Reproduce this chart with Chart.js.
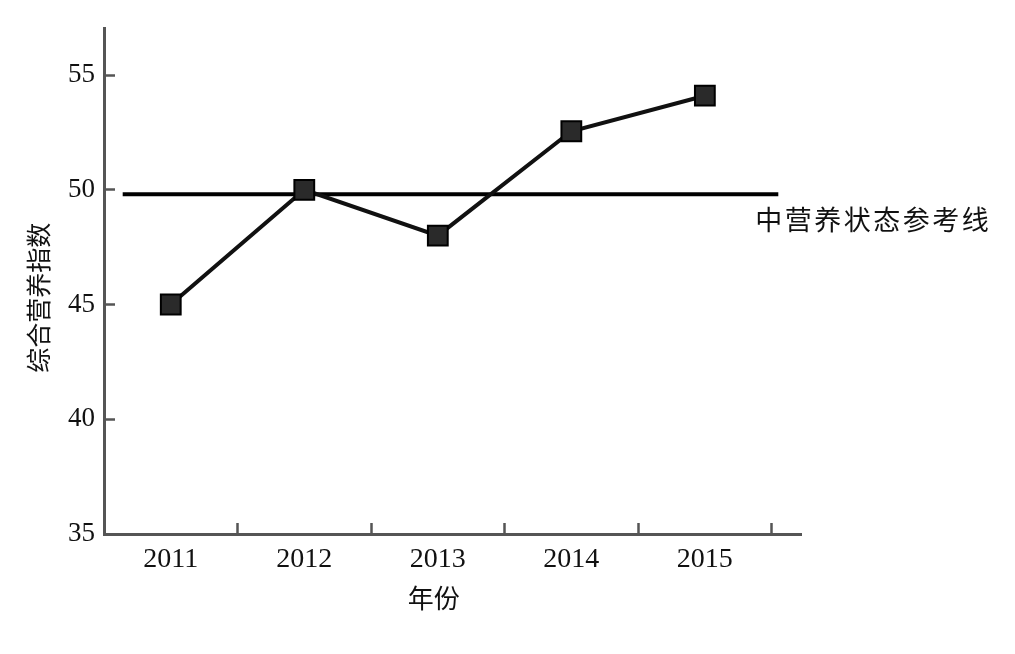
<!DOCTYPE html>
<html>
<head>
<meta charset="utf-8">
<script src="https://cdn.jsdelivr.net/npm/chart.js@4/dist/chart.umd.min.js"></script>
<style>
  html, body { margin: 0; padding: 0; background: #fff; }
  #wrap { width: 1015px; height: 654px; }
</style>
</head>
<body>
<div id="wrap"><canvas id="c" width="1015" height="654"></canvas></div>
<script>
const categories = [2011, 2012, 2013, 2014, 2015];
const indexValues = [45.0, 50.0, 48.0, 52.55, 54.1];
const yTickValues = [35, 40, 45, 50, 55];
const yMin = 35, yMax = 57.05;
const xMin = 2010.5, xMax = 2015.72;
const refValue = 49.8;
const refStart = 2010.64, refEnd = 2015.55;
const refLabel = '中营养状态参考线';
const xTitle = '年份';
const yTitle = '综合营养指数';

const axisColor = '#555';
const serif = '"Liberation Serif", "Times New Roman", serif';
const cjk = '"Noto Sans CJK SC", sans-serif';

const textPlugin = {
  id: 'texts',
  afterDraw(chart) {
    const ctx = chart.ctx;
    const xs = chart.scales.x, ys = chart.scales.y;
    ctx.save();
    ctx.fillStyle = '#111';
    // y title
    ctx.save();
    ctx.translate(38, ys.getPixelForValue(45.3));
    ctx.rotate(-Math.PI / 2);
    ctx.font = '25px ' + cjk;
    ctx.textAlign = 'center';
    ctx.textBaseline = 'middle';
    ctx.fillText(yTitle, 0, 0);
    ctx.restore();
    // x title
    ctx.font = '26px ' + cjk;
    ctx.textAlign = 'center';
    ctx.textBaseline = 'middle';
    ctx.fillText(xTitle, xs.getPixelForValue(categories[2]) - 4, chart.chartArea.bottom + 64);
    // reference label
    ctx.font = '27px ' + cjk;
    ctx.textAlign = 'left';
    ctx.textBaseline = 'middle';
    try { ctx.letterSpacing = '2.5px'; } catch (e) {}
    ctx.fillText(refLabel, xs.getPixelForValue(refEnd) - 23, ys.getPixelForValue(refValue) + 25);
    ctx.restore();
  }
};

new Chart(document.getElementById('c'), {
  type: 'line',
  data: {
    datasets: [
      {
        label: '综合营养指数',
        data: categories.map((c, i) => ({ x: c, y: indexValues[i] })),
        borderColor: '#111',
        borderWidth: 4,
        pointStyle: 'rect',
        pointRadius: 14,
        pointHoverRadius: 14,
        pointBackgroundColor: '#2a2a2a',
        pointBorderColor: '#000',
        pointBorderWidth: 2,
        tension: 0,
        order: 0
      },
      {
        label: refLabel,
        data: [{ x: refStart, y: refValue }, { x: refEnd, y: refValue }],
        borderColor: '#000',
        borderWidth: 4,
        pointRadius: 0,
        tension: 0,
        order: 1
      }
    ]
  },
  options: {
    responsive: false,
    animation: false,
    events: [],
    layout: { padding: { top: 28, right: 214, left: 0, bottom: 0 } },
    plugins: { legend: { display: false }, tooltip: { enabled: false } },
    scales: {
      x: {
        type: 'linear',
        min: xMin,
        max: xMax,
        afterBuildTicks(scale) {
          const t = [];
          categories.forEach(c => { t.push({ value: c }); t.push({ value: c + 0.5 }); });
          scale.ticks = t;
        },
        afterFit(scale) { scale.height = 120; scale.paddingLeft = 0; scale.paddingRight = 0; },
        border: { display: true, color: axisColor, width: 3 },
        grid: {
          drawOnChartArea: false,
          drawTicks: true,
          tickLength: -11,
          tickWidth: 2.5,
          tickColor: (ctx) => (ctx.tick && Number.isInteger(ctx.tick.value)) ? 'rgba(0,0,0,0)' : axisColor
        },
        ticks: {
          autoSkip: false,
          maxRotation: 0,
          padding: 20,
          color: '#111',
          font: { family: serif, size: 28 },
          callback: (v) => Number.isInteger(v) ? String(v) : ''
        }
      },
      y: {
        type: 'linear',
        min: yMin,
        max: yMax,
        afterBuildTicks(scale) { scale.ticks = yTickValues.map(v => ({ value: v })); },
        afterFit(scale) { scale.width = 104; scale.paddingTop = 0; scale.paddingBottom = 0; },
        border: { display: true, color: axisColor, width: 3 },
        grid: {
          drawOnChartArea: false,
          drawTicks: true,
          tickLength: -11,
          tickWidth: 2.5,
          tickColor: axisColor
        },
        ticks: {
          padding: 20,
          color: '#111',
          font: { family: serif, size: 27 }
        }
      }
    }
  },
  plugins: [textPlugin]
});
</script>
</body>
</html>
